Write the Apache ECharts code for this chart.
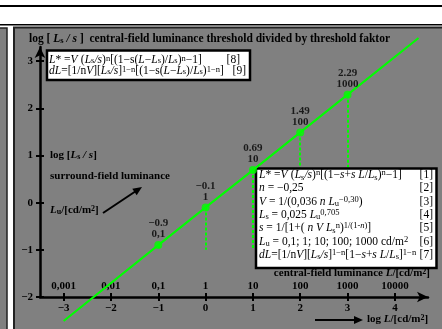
<!DOCTYPE html>
<html>
<head>
<meta charset="utf-8">
<script src="https://cdn.jsdelivr.net/npm/echarts@6/dist/echarts.min.js"></script>
<style>
html,body{margin:0;padding:0;background:#fff}
#chart{width:442px;height:329px}
</style>
</head>
<body>
<div id="chart"></div>
<script>
// axis ticks
var logLTicks = [-3, -2, -1, 0, 1, 2, 3, 4];
var LTickLabels = ['0,001', '0,01', '0,1', '1', '10', '100', '1000', '10000'];
var logLsTicks = [-2, -1, 0, 1, 2, 3];
// marked points: log L, log(Ls/s), Lu label
var ptLogL = [-1, 0, 1, 2, 3];
var ptLogLs = [-0.9, -0.1, 0.69, 1.49, 2.29];
var ptLu = ['0,1', '1', '10', '100', '1000'];
// green line
var lineLogL = [-3, -1, 0, 1, 2, 3, 4.5];
var lineLogLs = [-2.51, -0.9, -0.1, 0.69, 1.49, 2.29, 3.49];
var dropTo = -1;

var serif = "'Liberation Serif', 'DejaVu Serif', serif";
var chart = echarts.init(document.getElementById('chart'));

function minus(v) { return String(v).replace('-', '\u2212'); }

var boxRich = {
	r: {fontFamily: serif, fontSize: 11.5, color: '#000'},
	i: {fontFamily: serif, fontSize: 11.5, fontStyle: 'italic', color: '#000'},
	b: {fontFamily: serif, fontSize: 8.5, color: '#000', verticalAlign: 'bottom', lineHeight: 7},
	p: {fontFamily: serif, fontSize: 8.5, color: '#000', verticalAlign: 'top', lineHeight: 7},
	pi: {fontFamily: serif, fontSize: 8.5, fontStyle: 'italic', color: '#000', verticalAlign: 'top', lineHeight: 7}
};
function boldRich(size) {
	return {
		b: {fontFamily: serif, fontSize: size, fontWeight: 'bold', color: '#000'},
		bi: {fontFamily: serif, fontSize: size, fontWeight: 'bold', fontStyle: 'italic', color: '#000'},
		bs: {fontFamily: serif, fontSize: size - 3, fontWeight: 'bold', color: '#000', verticalAlign: 'bottom', lineHeight: 7},
		bp: {fontFamily: serif, fontSize: size - 3, fontWeight: 'bold', color: '#000', verticalAlign: 'top', lineHeight: 7}
	};
}

var M = '\u2212';
var box1Text = [
	'{i|L}{r|* =}{i|V} {r|(}{i|L}{b|s}{i|/s}{r|)}{p|n}{r|[(1' + M + 's(}{i|L}{r|' + M + '}{i|L}{b|s}{r|)/}{i|L}{b|s}{r|)}{p|n}{r|' + M + '1]}',
	'{i|dL}{r|=[1/n}{i|V}{r|][}{i|L}{b|s}{i|/s}{r|]}{p|1' + M + 'n}{r|[(1' + M + 's(}{i|L}{r|' + M + '}{i|L}{b|s}{r|)/}{i|L}{b|s}{r|)}{p|1' + M + 'n}{r|]}'
].join('\n');
var box2Text = [
	'{i|L}{r|* =}{i|V} {r|(}{i|L}{b|s}{i|/s}{r|)}{p|n}{r|[(1' + M + '}{i|s}{r|+}{i|s L}{r|/}{i|L}{b|s}{r|)}{p|n}{r|' + M + '1]}',
	'{i|n}{r| = ' + M + '0,25}',
	'{i|V}{r| = 1/(0,036 }{i|n L}{b|u}{p|' + M + '0,30}{r|)}',
	'{i|L}{b|s}{r| = 0,025 }{i|L}{b|u}{p|0,705}',
	'{i|s}{r| = 1/[1+(}{i| n V L}{b|s}{p|n}{r|)}{p|1/(1-}{pi|n}{p|)}{r|]}',
	'{i|L}{b|u}{r| = 0,1; 1; 10; 100; 1000 cd/m}{p|2}',
	'{i|dL}{r|=[1/n}{i|V}{r|][}{i|L}{b|s}{i|/s}{r|]}{p|1' + M + 'n}{r|[1' + M + '}{i|s}{r|+}{i|s L}{r|/}{i|L}{b|s}{r|]}{p|1' + M + 'n}'
].join('\n');

var dropData = ptLogL.map(function (x, i) {
	return [{coord: [x, ptLogLs[i]]}, {coord: [x, dropTo]}];
});

var option = {
	backgroundColor: '#fff',
	animation: false,
	grid: {left: 40, right: 14, top: 47, bottom: 32},
	xAxis: [
		{
			type: 'value', min: -3.5, max: 4.7, position: 'bottom',
			axisLine: {onZero: false, lineStyle: {color: '#000', width: 2.5}, symbol: ['none', 'arrow'], symbolSize: [8, 11]},
			axisTick: {customValues: logLTicks, length: 4, lineStyle: {color: '#000', width: 2}},
			axisLabel: {customValues: logLTicks, formatter: minus, color: '#000', fontFamily: serif, fontWeight: 'bold', fontSize: 11, margin: 6},
			splitLine: {show: false}
		},
		{
			type: 'value', min: -3.5, max: 4.7, position: 'bottom',
			axisLine: {show: false, onZero: false},
			axisTick: {customValues: logLTicks, inside: true, length: 4, lineStyle: {color: '#000', width: 2}},
			axisLabel: {
				customValues: logLTicks, inside: true, margin: 5,
				formatter: function (v) { return LTickLabels[logLTicks.indexOf(v)]; },
				color: '#000', fontFamily: serif, fontWeight: 'bold', fontSize: 11
			},
			splitLine: {show: false}
		}
	],
	yAxis: [
		{
			type: 'value', min: -2, max: 3.3, position: 'left',
			axisLine: {onZero: false, lineStyle: {color: '#000', width: 2.5}, symbol: ['none', 'arrow'], symbolSize: [8, 11]},
			axisTick: {customValues: logLsTicks, length: 4, lineStyle: {color: '#000', width: 2}},
			axisLabel: {customValues: logLsTicks, formatter: minus, color: '#000', fontFamily: serif, fontWeight: 'bold', fontSize: 11, margin: 7},
			splitLine: {show: false}
		},
		{
			type: 'value', min: -2, max: 3.3, position: 'left',
			axisLine: {show: false, onZero: false},
			axisTick: {customValues: logLsTicks, inside: true, length: 4, lineStyle: {color: '#000', width: 2}},
			axisLabel: {show: false},
			splitLine: {show: false}
		}
	],
	graphic: [
		{type: 'rect', z: -5, shape: {x: 0, y: 5, width: 442, height: 2}, style: {fill: '#000'}},
		{type: 'rect', z: -5, shape: {x: 0, y: 24, width: 442, height: 1.5}, style: {fill: '#000'}},
		{type: 'rect', z: -5, shape: {x: -3, y: 28, width: 10, height: 305}, style: {fill: '#808080', stroke: '#222', lineWidth: 1.5}},
		{type: 'rect', z: -5, shape: {x: 14, y: 27.5, width: 432, height: 305}, style: {fill: '#808080', stroke: '#222', lineWidth: 2}},
		{type: 'text', z: 5, left: 29, top: 33, style: {text: '{b|log [ }{bi|L}{bs|s}{bi| / s}{b| ]  central-field luminance threshold divided by threshold faktor}', rich: boldRich(11.5)}},
		{type: 'rect', z: 5, shape: {x: 47, y: 50.5, width: 203, height: 29.5}, style: {fill: '#fff', stroke: '#000', lineWidth: 2.5}},
		{type: 'text', z: 6, left: 49, top: 53.5, style: {text: box1Text, rich: boxRich, lineHeight: 11}},
		{type: 'text', z: 6, x: 240, y: 53.5, style: {text: '[8]', align: 'right', font: '11.5px ' + serif, fill: '#000'}},
		{type: 'text', z: 6, x: 246, y: 64.5, style: {text: '[9]', align: 'right', font: '11.5px ' + serif, fill: '#000'}},
		{type: 'rect', z: 5, shape: {x: 256, y: 168.5, width: 180.5, height: 99.5}, style: {fill: '#fff', stroke: '#000', lineWidth: 2.5}},
		{type: 'text', z: 6, left: 259, top: 168.5, style: {text: box2Text, rich: boxRich, lineHeight: 13.3}},
		{type: 'text', z: 6, x: 433, y: 168.5, style: {text: '[1]\n[2]\n[3]\n[4]\n[5]\n[6]\n[7]', align: 'right', font: '11.5px ' + serif, fill: '#000', lineHeight: 13.3}},
		{type: 'text', z: 5, left: 50, top: 150, style: {text: '{b|log [}{bi|L}{bs|s}{bi| / s}{b|]}', rich: boldRich(11)}},
		{type: 'text', z: 5, left: 50, top: 171, style: {text: 'surround-field luminance', font: 'bold 11px ' + serif, fill: '#000'}},
		{type: 'text', z: 5, left: 50, top: 205, style: {text: '{bi|L}{bs|u}{b|/[cd/m}{bp|2}{b|]}', rich: boldRich(11)}},
		{type: 'line', z: 5, shape: {x1: 103, y1: 213, x2: 136, y2: 191}, style: {stroke: '#000', lineWidth: 2}},
		{type: 'polygon', z: 5, shape: {points: [[142, 187], [136.7, 195.3], [132.3, 188.7]]}, style: {fill: '#000'}},
		{type: 'text', z: 5, right: 12, top: 268, style: {text: '{b|central-field luminance }{bi|L}{b|/[cd/m}{bp|2}{b|]}', rich: boldRich(11)}},
		{type: 'line', z: 5, shape: {x1: 315, y1: 320, x2: 355, y2: 320}, style: {stroke: '#000', lineWidth: 2}},
		{type: 'polygon', z: 5, shape: {points: [[363, 320], [354, 316], [354, 324]]}, style: {fill: '#000'}},
		{type: 'text', z: 5, left: 367, top: 314, style: {text: '{b|log }{bi|L}{b|/[cd/m}{bp|2}{b|]}', rich: boldRich(11)}}
	],
	series: [
		{
			type: 'scatter', z: 1, data: [], silent: true,
			markLine: {
				z: 1, symbol: 'none', silent: true, animation: false,
				label: {show: false},
				lineStyle: {color: '#00ff00', width: 2, type: [3, 2]},
				data: dropData
			}
		},
		{
			type: 'line', z: 10, clip: false, symbol: 'none', silent: true,
			lineStyle: {color: '#00ff00', width: 2},
			data: lineLogL.map(function (x, i) { return [x, lineLogLs[i]]; })
		},
		{
			type: 'scatter', z: 11, clip: false, symbolSize: 8,
			itemStyle: {color: '#00ff00'},
			label: {
				show: true, position: 'top', distance: 1,
				formatter: function (p) { return minus(ptLogLs[p.dataIndex]) + '\n' + ptLu[p.dataIndex]; },
				color: '#000', fontFamily: serif, fontWeight: 'bold', fontSize: 11, lineHeight: 11
			},
			data: ptLogL.map(function (x, i) { return [x, ptLogLs[i]]; })
		}
	]
};
chart.setOption(option);
</script>
</body>
</html>
